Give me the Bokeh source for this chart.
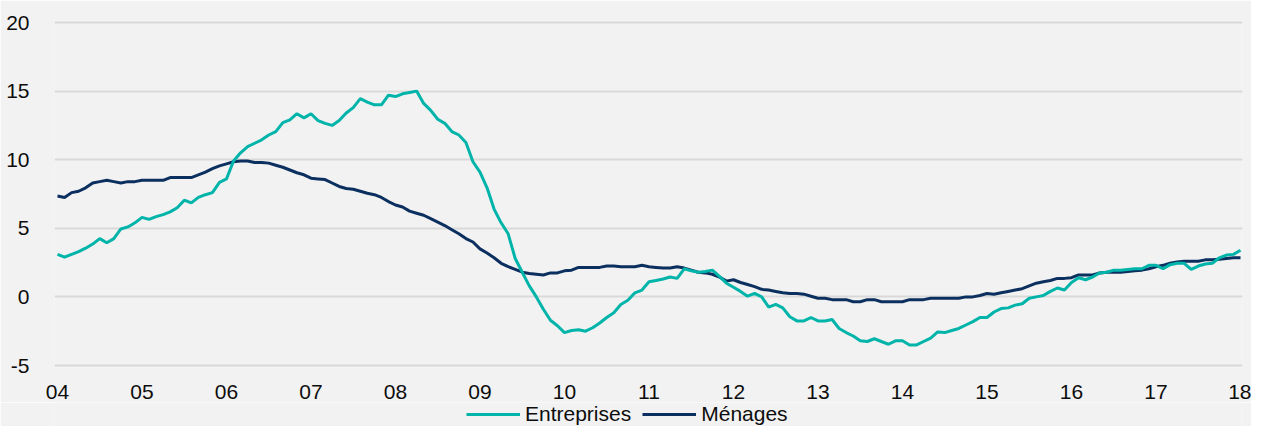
from bokeh.plotting import figure
from bokeh.layouts import column
from bokeh.models import FixedTicker, Legend, LegendItem, Range1d
from bokeh.embed import file_html
from bokeh.resources import INLINE

# Monthly series, Jan 2004 .. Jan 2018 (year-on-year growth, %)
entreprises = [
    3.1, 2.9, 3.1, 3.3, 3.55, 3.85, 4.25, 3.95, 4.25, 4.95, 5.1, 5.4,            # 2004
    5.8, 5.65, 5.85, 6.0, 6.2, 6.5, 7.05, 6.85, 7.25, 7.45, 7.6, 8.35,           # 2005
    8.6, 9.9, 10.5, 10.95, 11.2, 11.45, 11.8, 12.05, 12.7, 12.9, 13.35, 13.05,   # 2006
    13.35, 12.85, 12.65, 12.5, 12.85, 13.4, 13.8, 14.45, 14.2, 14.0, 14.0, 14.7, # 2007
    14.6, 14.8, 14.9, 15.0, 14.1, 13.6, 12.95, 12.65, 12.05, 11.8, 11.25, 9.85,  # 2008
    9.1, 7.95, 6.4, 5.4, 4.6, 2.8, 1.8, 0.8, 0.0, -0.9, -1.7, -2.1,             # 2009
    -2.6, -2.45, -2.4, -2.5, -2.25, -1.9, -1.5, -1.15, -0.55, -0.25, 0.3, 0.5,  # 2010
    1.1, 1.2, 1.3, 1.45, 1.35, 2.05, 1.9, 1.8, 1.85, 1.95, 1.5, 1.0,            # 2011
    0.7, 0.4, 0.05, 0.25, 0.0, -0.75, -0.55, -0.8, -1.45, -1.75, -1.75, -1.5,   # 2012
    -1.75, -1.75, -1.65, -2.3, -2.6, -2.85, -3.2, -3.25, -3.05, -3.25, -3.45, -3.2,  # 2013
    -3.2, -3.5, -3.5, -3.25, -3.0, -2.55, -2.6, -2.45, -2.3, -2.05, -1.8, -1.5,  # 2014
    -1.5, -1.1, -0.85, -0.8, -0.6, -0.5, -0.1, 0.0, 0.1, 0.4, 0.65, 0.5,        # 2015
    1.05, 1.4, 1.25, 1.45, 1.75, 1.8, 1.95, 1.95, 2.0, 2.05, 2.05, 2.3,         # 2016
    2.3, 2.05, 2.35, 2.45, 2.45, 2.0, 2.25, 2.4, 2.45, 2.85, 3.05, 3.1,         # 2017
    3.4,                                                                         # 2018
]
menages = [
    7.35, 7.25, 7.6, 7.7, 7.95, 8.3, 8.4, 8.5, 8.4, 8.3, 8.4, 8.4,              # 2004
    8.5, 8.5, 8.5, 8.5, 8.7, 8.7, 8.7, 8.7, 8.9, 9.1, 9.35, 9.55,               # 2005
    9.7, 9.85, 9.9, 9.9, 9.8, 9.8, 9.75, 9.6, 9.45, 9.25, 9.05, 8.9,            # 2006
    8.65, 8.6, 8.55, 8.3, 8.05, 7.9, 7.85, 7.7, 7.55, 7.45, 7.25, 6.95,         # 2007
    6.7, 6.55, 6.25, 6.1, 5.95, 5.7, 5.45, 5.2, 4.9, 4.6, 4.25, 4.0,            # 2008
    3.5, 3.2, 2.85, 2.45, 2.2, 2.0, 1.8, 1.7, 1.65, 1.6, 1.75, 1.75,            # 2009
    1.9, 1.95, 2.15, 2.15, 2.15, 2.15, 2.25, 2.25, 2.2, 2.2, 2.2, 2.3,          # 2010
    2.2, 2.15, 2.1, 2.1, 2.2, 2.1, 1.95, 1.8, 1.75, 1.65, 1.45, 1.15,           # 2011
    1.25, 1.05, 0.9, 0.75, 0.55, 0.5, 0.4, 0.3, 0.25, 0.25, 0.2, 0.05,         # 2012
    -0.1, -0.1, -0.2, -0.2, -0.2, -0.35, -0.35, -0.2, -0.2, -0.35, -0.35, -0.35,  # 2013
    -0.35, -0.2, -0.2, -0.2, -0.1, -0.1, -0.1, -0.1, -0.1, 0.0, 0.0, 0.1,      # 2014
    0.25, 0.2, 0.3, 0.4, 0.5, 0.6, 0.8, 1.0, 1.1, 1.2, 1.35, 1.35,             # 2015
    1.4, 1.6, 1.6, 1.6, 1.75, 1.8, 1.8, 1.8, 1.85, 1.9, 1.95, 2.05,            # 2016
    2.2, 2.3, 2.45, 2.55, 2.6, 2.6, 2.6, 2.7, 2.7, 2.75, 2.8, 2.85,            # 2017
    2.85,                                                                        # 2018
]
start_year = 2004
x_ticks = list(range(2004, 2019))
x_tick_labels = ["04", "05", "06", "07", "08", "09", "10", "11", "12", "13", "14", "15", "16", "17", "18"]
y_ticks = [-5, 0, 5, 10, 15, 20]
y_tick_labels = ["-5", "0", "5", "10", "15", "20"]
series_names = ["Entreprises", "Ménages"]
series_colors = ["#00B4AA", "#0B2F5E"]

months = [start_year + i / 12 for i in range(len(entreprises))]

FONT = "Liberation Sans"
TEXT = "#0d0d0d"
BG = "#F2F2F2"
PX_PER_UNIT = 13.72
PX_PER_YEAR = 84.5
W = 1251

# ---- main chart ----
p = figure(width=W, height=402, output_backend="svg", toolbar_location=None,
           x_range=Range1d(2004 - 3 / PX_PER_YEAR, 2018 + 2 / PX_PER_YEAR),
           y_range=Range1d(-5 - 2 / PX_PER_UNIT, 20 + 2 / PX_PER_UNIT),
           min_border_left=54, min_border_right=9, min_border_top=20, min_border_bottom=35)
p.background_fill_color = BG
p.border_fill_color = BG
p.outline_line_color = None

p.line(months, menages, line_color=series_colors[1], line_width=3)
p.line(months, entreprises, line_color=series_colors[0], line_width=3)

p.xaxis.ticker = FixedTicker(ticks=x_ticks)
p.xaxis.major_label_overrides = {t: l for t, l in zip(x_ticks, x_tick_labels)}
p.yaxis.ticker = FixedTicker(ticks=y_ticks)
p.yaxis.major_label_overrides = {t: l for t, l in zip(y_ticks, y_tick_labels)}
for ax in (p.xaxis, p.yaxis):
    ax.axis_line_color = None
    ax.major_tick_line_color = None
    ax.minor_tick_line_color = None
    ax.major_label_text_font = FONT
    ax.major_label_text_font_size = "21px"
    ax.major_label_text_color = TEXT
p.xaxis.major_label_standoff = 11
p.yaxis.major_label_standoff = 19

p.xgrid.visible = False
p.ygrid.grid_line_color = "#D9D9D9"
p.ygrid.grid_line_width = 2

# ---- legend strip (series re-drawn outside its visible range, only swatches show) ----
lg = figure(width=W, height=24, output_backend="svg", toolbar_location=None,
            x_range=Range1d(0, 1), y_range=Range1d(0, 1),
            min_border_left=0, min_border_right=0, min_border_top=0, min_border_bottom=0)
lg.background_fill_color = BG
lg.border_fill_color = BG
lg.outline_line_color = None
lg.axis.visible = False
lg.grid.visible = False
le = lg.line(months, entreprises, line_color=series_colors[0], line_width=3)
lm = lg.line(months, menages, line_color=series_colors[1], line_width=3)

legend = Legend(items=[LegendItem(label=series_names[0], renderers=[le]),
                       LegendItem(label=series_names[1], renderers=[lm])],
                orientation="horizontal", location=(412, 0),
                background_fill_alpha=0, border_line_color=None,
                padding=0, margin=0, spacing=11,
                glyph_width=54, glyph_height=20, label_standoff=5,
                label_height=20,
                label_text_font=FONT, label_text_font_size="21px",
                label_text_color=TEXT)
lg.add_layout(legend, "center")

layout = column(p, lg, spacing=0)
open("out.html", "w").write(file_html(layout, INLINE))
